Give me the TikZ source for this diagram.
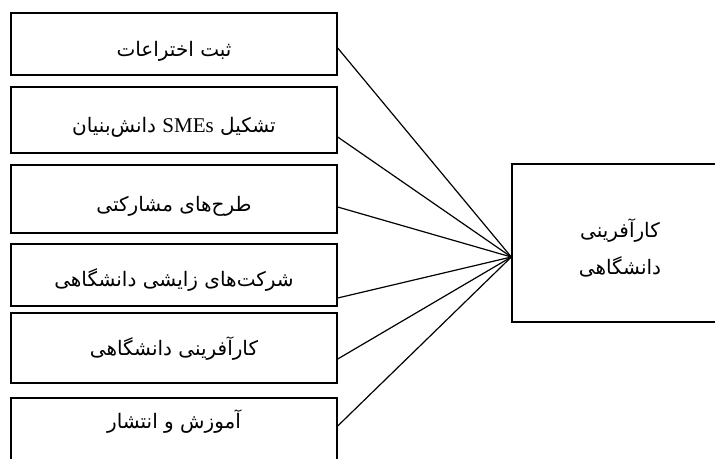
\documentclass[tikz,border=0pt]{standalone}
\usepackage{fontspec}
\newfontfamily\farsifont[Script=Arabic]{DejaVu Sans}
\newfontfamily\latinfont{Liberation Serif}
\TeXXeTstate=1
\usetikzlibrary{positioning, calc}

\tikzset{
  srcbox/.style={draw, line width=1.4pt, minimum width=326pt, inner ysep=1pt,
    text height=29pt, text depth=4pt, font=\farsifont\fontsize{20}{24}\selectfont},
  link/.style={line width=1.2pt}
}

\begin{document}
\begin{tikzpicture}[x=1pt, y=-1pt]
  \useasboundingbox (0,0) rectangle (715,458);

  % Sources
  \node[srcbox, minimum height=62pt] (patent) at (174, 44) {\beginR ثبت اختراعات\endR};
  \node[srcbox, minimum height=66pt] (smes) at (174, 120) {\beginR تشکیل {\latinfont\fontsize{21}{24}\selectfont\beginL SMEs\endL} دانش‌بنیان\endR};
  \node[srcbox, minimum height=68pt] (joint) at (174, 199) {\beginR طرح‌های مشارکتی\endR};
  \node[srcbox, minimum height=62pt, text height=26pt] (spinoff) at (174, 275) {\beginR شرکت‌های زایشی دانشگاهی\endR};
  \node[srcbox, minimum height=70pt, text depth=14pt] (entre) at (174, 348) {\beginR کارآفرینی دانشگاهی\endR};
  \node[srcbox, minimum height=66pt, text height=26pt, text depth=32pt] (teach) at (174, 431) {\beginR آموزش و انتشار\endR};

  % Target
  \node[draw, line width=1.4pt, minimum width=216pt, minimum height=158pt, align=center,
        text height=66pt, font=\farsifont\fontsize{20}{37}\selectfont] (goal) at (620, 243)
        {\beginR کارآفرینی\endR\\\beginR دانشگاهی\endR};
  \coordinate (hub) at ([yshift=-14pt]goal.west);

  % Links
  \draw[link] ([yshift=-4pt]patent.east) -- (hub);
  \draw[link] ([yshift=-17pt]smes.east) -- (hub);
  \draw[link] ([yshift=-8pt]joint.east) -- (hub);
  \draw[link] ([yshift=-23pt]spinoff.east) -- (hub);
  \draw[link] ([yshift=-11pt]entre.east) -- (hub);
  \draw[link] ([yshift=5pt]teach.east) -- (hub);
\end{tikzpicture}
\end{document}
